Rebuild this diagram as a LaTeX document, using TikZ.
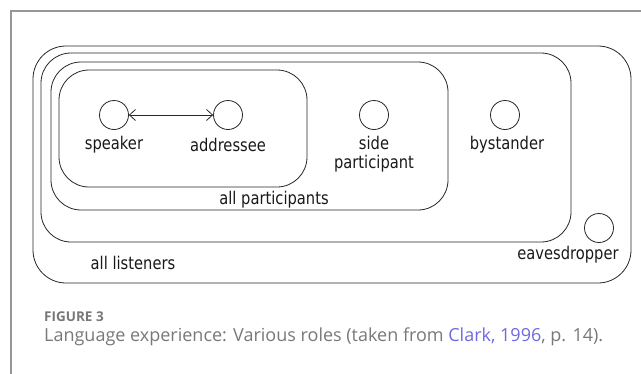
\documentclass[tikz,border=0pt]{standalone}
\usepackage{fontspec}
\setmainfont{DejaVu Sans}
\newfontfamily\diagfont[FakeStretch=0.84]{DejaVu Sans}
\newfontfamily\capfont{Open Sans}
\usetikzlibrary{arrows.meta}
\definecolor{framegrey}{RGB}{150,150,150}
\definecolor{capgrey}{RGB}{120,120,122}
\definecolor{linkblue}{RGB}{112,104,222}
\begin{document}
\begin{tikzpicture}[x=1pt,y=-1pt,
  roleset/.style={draw=black!85, line width=0.8pt, rounded corners=30pt},
  role/.style={circle, draw=black!85, line width=0.8pt, minimum size=29pt, inner sep=0pt},
  lbl/.style={font=\diagfont\fontsize{17.5}{19.5}\selectfont, inner sep=0pt, align=center, text=black!90},
  captext/.style={anchor=west, inner sep=0pt, font=\capfont\fontsize{18}{20}\selectfont, text=capgrey}]
  \useasboundingbox (0,0) rectangle (641,373);
  % page frame
  \draw[framegrey, line width=1.3pt] (11,380) -- (11,11) -- (650,11);
  % nested sets of roles
  \draw[roleset, rounded corners=33pt] (33,46) rectangle (631,283);
  \draw[roleset] (41,53) rectangle (571,242);
  \draw[roleset] (51,62) rectangle (448,210);
  \draw[roleset] (59,70) rectangle (307,187);
  % roles
  \node[role] (spk) at (114,115) {};
  \node[role] (adr) at (228,115) {};
  \node[role] (side) at (374,115) {};
  \node[role] (bys) at (505,115) {};
  \node[role] (eav) at (599,228) {};
  \draw[black!85, line width=0.8pt, {Straight Barb[length=6pt,width=11pt]}-{Straight Barb[length=6pt,width=11pt]}] (spk) -- (adr);
  % labels
  \node[lbl] (spkl) at (114,145) {speaker};
  \node[lbl] (adrl) at (228,145) {addressee};
  \node[lbl] (sidel) at (374,154) {side\\participant};
  \node[lbl] (bysl) at (507,145) {bystander};
  \node[lbl] (eavl) at (568,255) {eavesdropper};
  \node[lbl] (allp) at (274,200) {all participants};
  \node[lbl] (alll) at (133,263) {all listeners};
  % caption
  \node[captext, font=\capfont\bfseries\fontsize{13.5}{15}\selectfont] (fig) at (44,317) {FIGURE 3};
  \node[captext] (cap) at (44,337) {Language experience: Various roles (taken from \textcolor{linkblue}{Clark, 1996}, p. 14).};
\end{tikzpicture}
\end{document}
